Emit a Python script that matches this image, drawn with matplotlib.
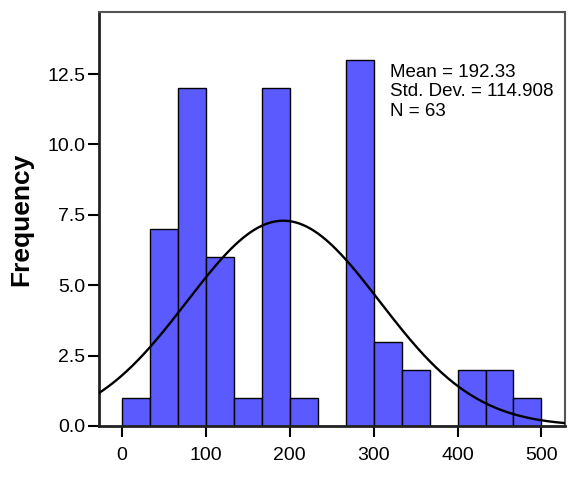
import matplotlib.pyplot as plt
import numpy as np

plt.rcParams['font.family'] = ['Liberation Sans', 'DejaVu Sans']

bin_edges = [0, 33.33, 66.67, 100, 133.33, 166.67, 200, 233.33, 266.67,
             300, 333.33, 366.67, 400, 433.33, 466.67, 500]
counts = [1, 7, 12, 6, 1, 12, 1, 0, 13, 3, 2, 0, 2, 2, 1]
mean = 192.33
std = 114.908
n = 63

fig = plt.figure(figsize=(5.8, 4.82), dpi=100)
ax = fig.add_axes([0.1707, 0.1162, 0.8033, 0.8588])

lefts = bin_edges[:-1]
widths = np.diff(bin_edges)
ax.bar(lefts, counts, width=widths, align='edge', color='#5a5aff',
       edgecolor='black', linewidth=1, zorder=2)

bw = bin_edges[1] - bin_edges[0]
xs = np.linspace(-30, 530, 400)
ys = n * bw * np.exp(-0.5 * ((xs - mean) / std) ** 2) / (std * np.sqrt(2 * np.pi))
ax.plot(xs, ys, color='black', linewidth=1.7, zorder=3)

ax.text(320, 12.85, 'Mean = 192.33\nStd. Dev. = 114.908\nN = 63',
        fontsize=13.5, va='top', ha='left', linespacing=1.18)

ax.set_xlim(-27.4, 528)
ax.set_ylim(0, 14.7)
ax.set_xticks([0, 100, 200, 300, 400, 500])
ax.set_yticks([0, 2.5, 5, 7.5, 10, 12.5])
ax.set_yticklabels(['0.0', '2.5', '5.0', '7.5', '10.0', '12.5'])
ax.tick_params(labelsize=14, length=8, width=1.5, color='black', pad=2)
ax.tick_params(axis='x', pad=7)
ax.set_ylabel('Frequency', fontsize=19, fontweight='bold', labelpad=10)

for s in ['left', 'bottom']:
    ax.spines[s].set_linewidth(2)
    ax.spines[s].set_color('#222222')
for s in ['top', 'right']:
    ax.spines[s].set_linewidth(1.5)
    ax.spines[s].set_color('#555555')

plt.savefig('out.png')
